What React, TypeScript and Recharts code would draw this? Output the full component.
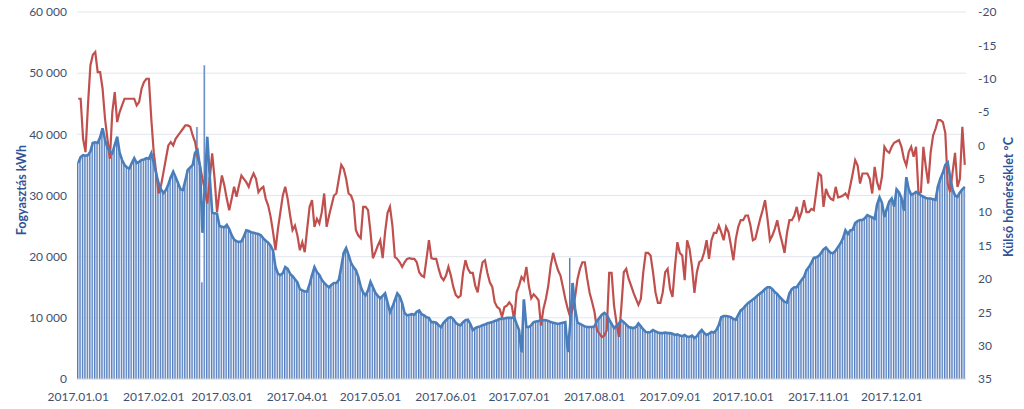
import { ComposedChart, Bar, Line, XAxis, YAxis, CartesianGrid } from "recharts";

// napi fogyasztás (kWh), 2017.01.01 - 2017.12.31
const consumption = [
  35300, 36300, 36600, 36500, 36600, 37200, 38600, 38700, 38600, 39500,
  41000, 39100, 37800, 37200, 36900, 38300, 39600, 37000, 35800, 35000,
  34600, 34400, 35300, 36100, 35300, 35500, 35800, 35900, 36100, 36000,
  36900, 35300, 33600, 32000, 31000, 30400, 30900, 31800, 33000, 33900,
  33000, 32000, 31000, 30900, 32500, 34200, 34600, 35000, 37000, 37400,
  34700, 23900, 32000, 39600, 33000, 27200, 27100, 27000, 25000, 24900,
  24800, 25200, 24500, 23500, 22800, 22500, 22400, 22500, 23300, 24300,
  24200, 24000, 23900, 23800, 23700, 23500, 23000, 22600, 22300, 21800,
  21000, 18300, 17200, 17000, 17300, 18300, 18000, 17200, 16800, 16300,
  15800, 14700, 14500, 14300, 14300, 15500, 17000, 18300, 17500, 17000,
  16200, 15700, 15300, 15000, 15400, 15700, 15700, 16200, 18300, 20600,
  21400, 20300, 19000, 18300, 17800, 16700, 15100, 14100, 13700, 14500,
  15900, 15000, 14100, 13600, 13200, 13600, 14000, 12500, 10900, 11800,
  12900, 14000, 13500, 12400, 10800, 10400, 10500, 10600, 10500, 11000,
  11200, 10600, 10400, 10100, 10000, 9300, 9300, 9200, 8800, 8500,
  9200, 9600, 10000, 10100, 9800, 9200, 8900, 8800, 9300, 9600,
  9700, 9000, 8000, 8300, 8500, 8600, 8800, 8900, 9100, 9200,
  9300, 9500, 9600, 9800, 9900, 9900, 10000, 10000, 10000, 10100,
  9000, 8000, 4300, 13000, 8500, 8500, 8800, 9300, 9400, 9500,
  9600, 9650, 9600, 9500, 9300, 9200, 9100, 9000, 9100, 9200,
  9300, 4400, 9000, 15700, 11500, 9200, 9000, 8800, 8600, 8500,
  8500, 8500, 8600, 9500, 10000, 10500, 10800, 10500, 9700, 9000,
  8300, 8700, 9100, 9600, 9300, 8900, 8500, 8400, 8300, 8500,
  9100, 8600, 8100, 7700, 7600, 7700, 8000, 7800, 7600, 7500,
  7500, 7600, 7500, 7500, 7400, 7200, 7300, 7100, 7000, 7200,
  6900, 6900, 7100, 6700, 7000, 7600, 8000, 7500, 7200, 7400,
  7700, 7600, 8000, 8800, 10100, 10300, 10300, 10200, 10100, 9800,
  9700, 10500, 11200, 11500, 12000, 12400, 12700, 13000, 13300, 13700,
  14000, 14300, 14700, 15000, 15000, 14700, 14200, 13900, 13400, 13000,
  12600, 12500, 14000, 14700, 15000, 15000, 15600, 16200, 16700, 17800,
  18300, 19000, 19800, 19900, 20100, 20600, 21200, 21500, 21000, 20600,
  20600, 21000, 21600, 22200, 23000, 24300, 23700, 24300, 24400, 25500,
  25800, 26000, 26000, 26300, 26800, 26600, 26400, 26200, 28500, 29700,
  28800, 26500, 27800, 29000, 29500, 28200, 31000, 30500, 29600, 27500,
  33000, 31000, 30100, 30300, 30600, 30300, 30000, 29800, 29600, 29500,
  29500, 29400, 29300, 31500, 32800, 33700, 35000, 35400, 33000, 31000,
  30000, 29800, 30500, 31000, 31400,
];

// külső hőmérséklet (°C)
const temperature = [
  -7, -7, -1, 1, -6, -12, -13.6, -14, -11, -11,
  -8.5, -4, -1, 2, -5, -8, -3.5, -5, -6, -7,
  -7, -7, -7, -7, -6, -6.5, -8.5, -9.5, -10, -10,
  -4, 1, 4, 7.2, 6, 4, 2, 0, -0.5, 0,
  -1, -1.5, -2, -2.5, -3, -3, -2.8, -1.5, -0.5, 1.7,
  3, 5, 6.7, 8.7, 5, 1.2, 5, 10, 7, 4.5,
  6, 8, 9.7, 8, 6.2, 7.7, 6, 4.5, 5, 5.5,
  6.2, 5, 4.2, 5, 7, 6.5, 6.2, 8, 9, 10.7,
  13, 15.7, 12.5, 10, 7.5, 6.2, 8, 10.5, 12.7, 12,
  13.5, 15.7, 14.5, 16, 12.5, 9.2, 8.2, 12.2, 11, 11.7,
  10, 7.2, 12.2, 10.5, 9, 7.5, 7.2, 5, 2.9, 3.5,
  5, 7.2, 7.5, 8.5, 12.7, 13.5, 13.9, 9.2, 9.2, 9.7,
  13, 16.9, 16, 15, 14.2, 16.9, 13, 10.1, 9.2, 12,
  16.7, 17, 17.5, 18.2, 17.5, 17, 16.9, 17, 17, 17.5,
  19, 19.5, 19.7, 17, 14.2, 16.9, 17, 17, 18.5, 19.7,
  20.2, 19.5, 18.2, 19.5, 21.2, 22.4, 22.8, 22.5, 19.1, 17.2,
  18.5, 19.1, 19.1, 21, 22, 19.5, 17.5, 17.2, 19.1, 20.5,
  21.2, 23.5, 24.2, 24.5, 25.7, 24.2, 24, 23.5, 24, 26.2,
  22, 21, 19.7, 20.2, 18.2, 21, 22.9, 22.3, 22.7, 23.2,
  27, 24.5, 23, 21, 18, 16.1, 17.5, 18.7, 19.5, 21.2,
  23, 24.5, 25.7, 24.5, 22.7, 20, 18.5, 17.5, 17.5, 20,
  22.1, 23.5, 25, 27.7, 28.2, 28.7, 28.5, 27.7, 19.1, 19.1,
  24, 26.6, 28.7, 24.2, 19, 18.5, 20, 21, 22.1, 23,
  23.9, 23, 19, 16.1, 16.1, 16.5, 19, 22, 23.6, 23.6,
  22, 19, 18.5, 21.5, 22.7, 18.2, 14.5, 16.1, 16.5, 20.2,
  14.2, 15.5, 18.2, 22.1, 19, 17.5, 17.2, 16, 14.2, 17,
  14.2, 13.1, 13.1, 12, 13, 14.2, 12.2, 13, 15, 17.2,
  14, 12.2, 11.2, 11.2, 10.5, 10.5, 12, 14.2, 14, 12.5,
  11, 9.7, 8.2, 11, 14.2, 13.5, 12.5, 11.2, 13.1, 14.5,
  16.1, 13.1, 11.2, 11.2, 10.5, 9.2, 11, 10, 8.2, 10,
  10, 9.5, 9.7, 7, 4.2, 4.5, 9.2, 6.5, 7.5, 8,
  8.2, 6.2, 7.8, 7.7, 7.5, 7.2, 7.8, 6, 4.2, 2.2,
  3, 5.7, 4.2, 4.2, 4.2, 5, 7.2, 3.2, 5.5, 6.7,
  4.7, 0.2, 0.8, 1.1, 0.2, -0.4, -0.6, -0.8, 0.2, 2,
  3, 1, 0.2, 1.7, 0.2, 7.2, 7, 0.2, 3.2, 5.7,
  1, -1.5, -2.5, -3.8, -3.8, -3.5, -1.9, 5.7, 7, 4,
  1.1, 6.2, 5, -2.8, 2.9,
];

// napok, ahol az oszlop eltér a vonaltól
const barSpikes = [
  { day: 49, kwh: 41200 },
  { day: 51, kwh: 15800 },
  { day: 52, kwh: 51300 },
  { day: 202, kwh: 19800 },
];

const monthTicks = [
  "2017.01.01", "2017.02.01", "2017.03.01", "2017.04.01", "2017.05.01", "2017.06.01",
  "2017.07.01", "2017.08.01", "2017.09.01", "2017.10.01", "2017.11.01", "2017.12.01",
];
const kwhTicks = [0, 10000, 20000, 30000, 40000, 50000, 60000];
const tempTicks = [-20, -15, -10, -5, 0, 5, 10, 15, 20, 25, 30, 35];

const TICK = "#3e5070";
const TITLE = "#2f5597";
const FONT = "Lato, 'Open Sans', sans-serif";

function dayLabel(i: number) {
  const d = new Date(Date.UTC(2017, 0, 1 + i));
  const mm = String(d.getUTCMonth() + 1).padStart(2, "0");
  const dd = String(d.getUTCDate()).padStart(2, "0");
  return `${d.getUTCFullYear()}.${mm}.${dd}`;
}

const spikeMap = new Map(barSpikes.map((s) => [s.day, s.kwh]));

const data = consumption.map((kwh, i) => ({
  date: dayLabel(i),
  kwh,
  bar: spikeMap.get(i) ?? kwh,
  temp: temperature[i],
}));

const fmtKwh = (v: number) => String(v).replace(/\B(?=(\d{3})+(?!\d))/g, " ");

export default function App() {
  return (
    <div style={{ position: "absolute", left: 0, top: 0, background: "#fff", fontFamily: FONT }}>
      <ComposedChart
        width={1024}
        height={409}
        data={data}
        margin={{ top: 12, right: 0, bottom: 0, left: 0 }}
        barCategoryGap={0}
        barGap={0}
      >
        <defs>
          <linearGradient id="barFill" x1="0" y1="0" x2="1" y2="0">
            <stop offset="0%" stopColor="#2f60aa" />
            <stop offset="40%" stopColor="#6a8fc9" />
            <stop offset="100%" stopColor="#e9eef7" />
          </linearGradient>
        </defs>
        <CartesianGrid yAxisId="kwh" vertical={false} stroke="#e2e6ee" />
        <XAxis
          dataKey="date"
          ticks={monthTicks}
          interval={0}
          height={30}
          tickLine={false}
          axisLine={{ stroke: "#d9d9d9" }}
          tickMargin={7}
          tick={{ fill: TICK, fontSize: 12, fontFamily: FONT }}
        />
        <YAxis
          yAxisId="kwh"
          width={77}
          domain={[0, 60000]}
          ticks={kwhTicks}
          tickFormatter={fmtKwh}
          tickLine={false}
          axisLine={false}
          tickMargin={4}
          tick={{ fill: TICK, fontSize: 12, fontFamily: FONT }}
          label={{
            content: () => (
              <text
                x={21}
                y={190}
                transform="rotate(-90 21 190)"
                textAnchor="middle"
                dominantBaseline="central"
                fill={TITLE}
                fontSize={12.5}
                fontWeight="bold"
                fontFamily={FONT}
              >
                Fogyasztás kWh
              </text>
            ),
          }}
        />
        <YAxis
          yAxisId="temp"
          orientation="right"
          width={58}
          domain={[-20, 35]}
          ticks={tempTicks}
          reversed
          tickLine={false}
          axisLine={false}
          tickMargin={6}
          tick={{ fill: TICK, fontSize: 12, fontFamily: FONT }}
          label={{
            content: () => (
              <text
                x={1008}
                y={197}
                transform="rotate(-90 1008 197)"
                textAnchor="middle"
                dominantBaseline="central"
                fill={TITLE}
                fontSize={12.5}
                fontWeight="bold"
                fontFamily={FONT}
              >
                Külső hőmérséklet °C
              </text>
            ),
          }}
        />
        <Bar yAxisId="kwh" dataKey="bar" fill="url(#barFill)" isAnimationActive={false} />
        <Line
          yAxisId="temp"
          type="linear"
          dataKey="temp"
          stroke="#c0504d"
          strokeWidth={2.2}
          dot={false}
          isAnimationActive={false}
        />
        <Line
          yAxisId="kwh"
          type="linear"
          dataKey="kwh"
          stroke="#4a7ebb"
          strokeWidth={2.6}
          dot={false}
          isAnimationActive={false}
        />
      </ComposedChart>
    </div>
  );
}
